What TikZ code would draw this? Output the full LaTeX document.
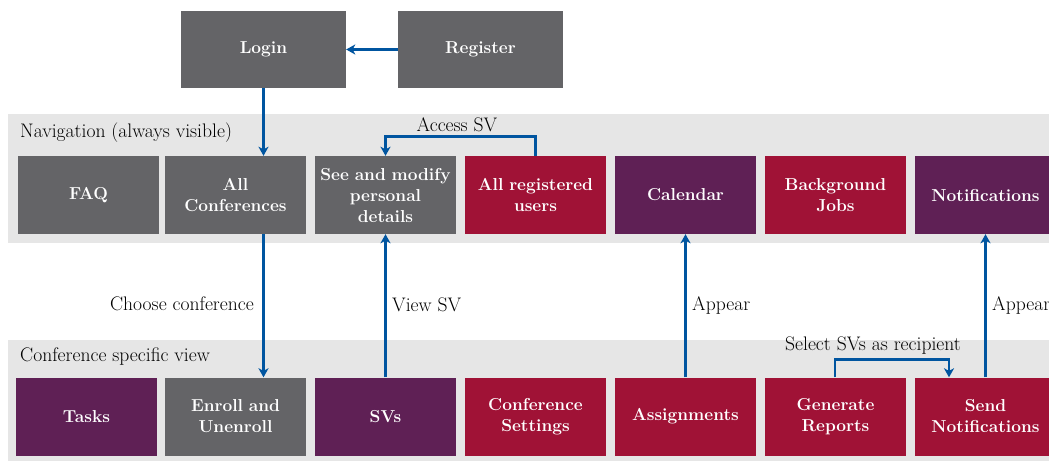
\documentclass[tikz,border=0pt]{standalone}
\usetikzlibrary{arrows.meta}
\definecolor{boxgray}{HTML}{646467}
\definecolor{crimson}{HTML}{A01236}
\definecolor{plum}{HTML}{5F2055}
\definecolor{bandgray}{HTML}{E6E6E6}
\definecolor{arrowblue}{HTML}{0055A0}
\tikzset{
  box/.style={rectangle, minimum width=141pt, minimum height=78pt, text width=138pt,
    align=center, text=white, inner sep=0pt, font=\fontsize{17.3}{21}\selectfont\bfseries},
  graybox/.style={box, fill=boxgray},
  redbox/.style={box, fill=crimson},
  purplebox/.style={box, fill=plum},
  conn/.style={draw=arrowblue, line width=2.6pt},
  arr/.style={conn, -{Stealth[length=9pt,width=10pt,inset=2.5pt]}},
  lbl/.style={font=\fontsize{19.6}{22}\selectfont, inner sep=0pt, text=black}
}
\begin{document}
\begin{tikzpicture}[x=1pt,y=-1pt]
\useasboundingbox (0,0) rectangle (1049,462);
\clip (0,0) rectangle (1049,462);
% bands
\fill[bandgray] (8,114) rectangle (1060,243);
\fill[bandgray] (8,340) rectangle (1060,461);
\node[lbl, anchor=west] (navlbl) at (20,133) {Navigation (always visible)};
\node[lbl, anchor=west] (conflbl) at (20,357) {Conference specific view};
% top
\node[graybox, minimum width=165pt, minimum height=77pt] (login) at (263.5,49.5) {Login};
\node[graybox, minimum width=165pt, minimum height=77pt] (register) at (480.5,49.5) {Register};
% row 1
\node[graybox] (faq) at (88.5,195) {FAQ};
\node[graybox] (allconf) at (235.5,195) {All\\Conferences};
\node[graybox] (details) at (385.5,195) {See and modify\\personal\\details};
\node[redbox] (allusers) at (535.5,195) {All registered\\users};
\node[purplebox] (calendar) at (685.5,195) {Calendar};
\node[redbox] (jobs) at (835.5,195) {Background\\Jobs};
\node[purplebox] (notif) at (985.5,195) {Notifications};
% row 2
\node[purplebox] (tasks) at (86.5,416.5) {Tasks};
\node[graybox] (enroll) at (235.5,416.5) {Enroll and\\Unenroll};
\node[purplebox] (svs) at (385.5,416.5) {SVs};
\node[redbox] (confset) at (535.5,416.5) {Conference\\Settings};
\node[redbox] (assign) at (685.5,416.5) {Assignments};
\node[redbox] (reports) at (835.5,416.5) {Generate\\Reports};
\node[redbox] (send) at (985.5,416.5) {Send\\Notifications};
% connectors
\draw[arr] (register.west) -- (login.east);
\draw[arr] (login.south) -- (login.south |- allconf.north);
\draw[arr] (login.south |- allconf.south) -- (login.south |- enroll.north);
\node[lbl, anchor=east] (choose) at (254,304) {Choose conference};
\draw[arr] (svs.north) -- (details.south);
\node[lbl, anchor=west] (viewsv) at (392,305) {View SV};
\draw[arr] (assign.north) -- (calendar.south);
\node[lbl, anchor=west] (appear1) at (692,305) {Appear};
\draw[arr] (send.north) -- (notif.south);
\node[lbl, anchor=west] (appear2) at (992,305) {Appear};
\draw[arr] (allusers.north) -- ++(0,-19) -| (details.north);
\node[lbl] (accesssv) at (457,125) {Access SV};
\draw[arr] ([xshift=-0.5pt]reports.north) -- ++(0,-18) -| ([xshift=-36.5pt]send.north);
\node[lbl] (selectsv) at (873,346) {Select SVs as recipient};
\end{tikzpicture}
\end{document}
